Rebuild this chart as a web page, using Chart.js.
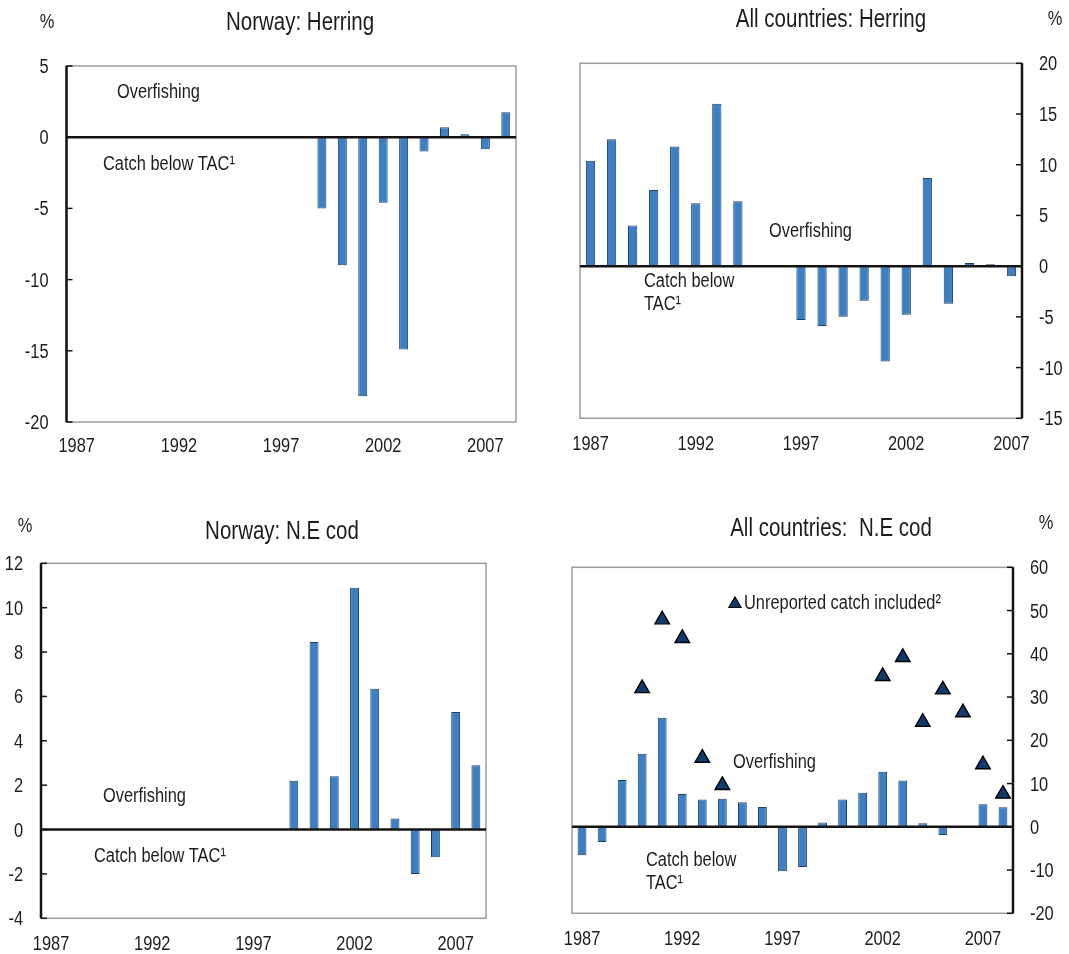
<!DOCTYPE html>
<html>
<head>
<meta charset="utf-8">
<script src="https://cdn.jsdelivr.net/npm/chart.js@4.4.1/dist/chart.umd.min.js"></script>
<style>
  html, body { margin: 0; padding: 0; background: #ffffff; }
  #page { position: relative; width: 1069px; height: 954px; overflow: hidden; }
  #page canvas { position: absolute; left: 0; top: 0; }
</style>
</head>
<body>
<div id="page">
  <canvas id="norwayHerring" width="1069" height="954"></canvas>
  <canvas id="allHerring" width="1069" height="954"></canvas>
  <canvas id="norwayCod" width="1069" height="954"></canvas>
  <canvas id="allCod" width="1069" height="954"></canvas>
</div>
<script>
// Catch relative to TAC, per cent

const yearsTo2008 = ['1987','1988','1989','1990','1991','1992','1993','1994','1995','1996','1997',
                     '1998','1999','2000','2001','2002','2003','2004','2005','2006','2007','2008'];
const yearsTo2007 = ['1987','1988','1989','1990','1991','1992','1993','1994','1995','1996','1997',
                     '1998','1999','2000','2001','2002','2003','2004','2005','2006','2007'];
const labelledYears = ['1987','1992','1997','2002','2007'];

// Norway: herring (1987-2008)
const norwayHerring = [null,null,null,null,null,null,null,null,null,null,null,null,
                       -5.0,-9.0,-18.2,-4.6,-14.9,-1.0,0.7,0.2,-0.85,1.75];
// All countries: herring (1987-2007)
const allHerring = [10.4,12.5,4.0,7.5,11.8,6.2,16.0,6.4,null,null,
                    -5.3,-5.9,-5.0,-3.4,-9.4,-4.8,8.7,-3.7,0.3,0.2,-1.0];
// Norway: N.E. cod (1987-2008)
const norwayCod = [null,null,null,null,null,null,null,null,null,null,null,null,
                   2.2,8.45,2.4,10.9,6.35,0.5,-2.0,-1.25,5.3,2.9];
// All countries: N.E. cod, reported catch (1987-2008)
const allCod = [-6.6,-3.5,10.8,16.9,25.2,7.6,6.3,6.5,5.7,4.6,
                -10.3,-9.3,1.0,6.3,7.9,12.7,10.7,0.8,-1.9,null,5.2,4.5];
// All countries: N.E. cod, unreported catch included (1987-2008)
const allCodUnreported = [null,null,null,32.0,47.9,43.6,15.9,9.6,null,null,
                          null,null,null,null,null,34.8,39.2,24.2,31.7,26.4,14.4,7.6];

const FONT = '"Liberation Sans", Arial, Helvetica, sans-serif';
const SQUEEZE = 0.82;          // narrow lettering
const INK = '#1d1d1d';
const BAR_FILL = '#3c7fc5';
const BAR_EDGE = '#1f3f66';
const MARK_FILL = '#0f3c6c';
const FRAME = '#9d9d9d';
const PAGE_W = 1069, PAGE_H = 954;
const AXIS_H = 40;

function line(ctx, x1, y1, x2, y2) {
  ctx.beginPath(); ctx.moveTo(x1, y1); ctx.lineTo(x2, y2); ctx.stroke();
}

function narrowText(ctx, text, x, y, size, align) {
  ctx.save();
  ctx.font = size + 'px ' + FONT;
  ctx.textAlign = align || 'left';
  ctx.textBaseline = 'alphabetic';
  ctx.translate(x, y);
  ctx.scale(SQUEEZE, 1);
  ctx.fillText(text, 0, 0);
  ctx.restore();
}

// frame, zero line, axis with inward ticks, tick labels and the panel's texts
const panelDecor = {
  id: 'panelDecor',
  beforeDatasetsDraw(chart) {
    const ctx = chart.ctx, a = chart.chartArea;
    ctx.save();
    ctx.strokeStyle = FRAME;
    ctx.lineWidth = 1.5;
    ctx.strokeRect(a.left, a.top, a.right - a.left, a.bottom - a.top);
    ctx.restore();
  },
  afterDatasetsDraw(chart, args, opts) {
    const ctx = chart.ctx, a = chart.chartArea, ys = chart.scales.y;
    const onRight = opts.side === 'right';
    const ax = onRight ? a.right : a.left;
    const dir = onRight ? -1 : 1;
    ctx.save();
    ctx.strokeStyle = '#141414';
    ctx.lineWidth = 2.5;
    const y0 = ys.getPixelForValue(0);
    line(ctx, a.left, y0, a.right, y0);
    line(ctx, ax, a.top, ax, a.bottom);
    ctx.lineWidth = 1.5;
    ys.ticks.forEach(t => {
      const y = ys.getPixelForValue(t.value);
      line(ctx, ax, y, ax + dir * 6, y);
    });
    ctx.restore();
  },
  afterDraw(chart, args, opts) {
    const ctx = chart.ctx, a = chart.chartArea;
    const ys = chart.scales.y, xs = chart.scales.x;
    const onRight = opts.side === 'right';
    ctx.save();
    ctx.fillStyle = INK;
    // value axis labels
    ys.ticks.forEach(t => {
      const y = ys.getPixelForValue(t.value);
      if (onRight) narrowText(ctx, t.label, a.right + 17, y + 7, 20, 'left');
      else narrowText(ctx, t.label, a.left - 18, y + 7, 20, 'right');
    });
    // year labels
    xs.ticks.forEach((t, i) => {
      if (t.label) narrowText(ctx, t.label, xs.getPixelForTick(i), a.bottom + opts.yearGap, 20, 'center');
    });
    (opts.texts || []).forEach(t => narrowText(ctx, t.text, t.x, t.y, t.size, t.align));
    if (opts.key) {
      const k = opts.key;
      ctx.fillStyle = MARK_FILL;
      ctx.strokeStyle = '#000000';
      ctx.lineWidth = 1.2;
      Chart.helpers.drawPoint(ctx, { pointStyle: 'triangle', radius: k.r, rotation: 0, borderWidth: 1.2 }, k.x, k.y);
      ctx.fillStyle = INK;
      narrowText(ctx, k.text, k.tx, k.ty, k.size, 'left');
    }
    ctx.restore();
  }
};

function makePanel(id, cfg) {
  const b = cfg.box;
  const onRight = cfg.side === 'right';
  const axisW = onRight ? PAGE_W - b.r : b.l;
  const padding = {
    top: b.t,
    bottom: PAGE_H - b.b - AXIS_H,
    left: onRight ? b.l : 0,
    right: onRight ? 0 : PAGE_W - b.r
  };
  const datasets = [{
    type: 'bar',
    data: cfg.values,
    backgroundColor: BAR_FILL,
    borderColor: BAR_EDGE,
    borderWidth: 1,
    borderSkipped: false,
    barPercentage: 0.44,
    categoryPercentage: 1.0,
    order: 2
  }];
  if (cfg.markers) {
    datasets.push({
      type: 'line',
      data: cfg.markers,
      showLine: false,
      pointStyle: 'triangle',
      pointRadius: 8.4,
      pointBackgroundColor: MARK_FILL,
      pointBorderColor: '#000000',
      pointBorderWidth: 1.4,
      order: 1
    });
  }
  return new Chart(document.getElementById(id), {
    type: 'bar',
    data: { labels: cfg.years, datasets },
    options: {
      responsive: false,
      animation: false,
      devicePixelRatio: 1,
      events: [],
      layout: { padding },
      plugins: {
        legend: { display: false },
        tooltip: { enabled: false },
        panelDecor: { side: cfg.side, texts: cfg.texts, key: cfg.key, yearGap: cfg.yearGap }
      },
      scales: {
        x: {
          type: 'category',
          offset: true,
          grid: { display: false, drawTicks: false },
          border: { display: false },
          ticks: {
            display: false,
            autoSkip: false, maxRotation: 0, minRotation: 0,
            callback: (v, i) => labelledYears.includes(cfg.years[i]) ? cfg.years[i] : ''
          },
          afterFit: s => { s.height = AXIS_H; }
        },
        y: {
          position: cfg.side,
          min: cfg.min, max: cfg.max,
          grid: { display: false, drawTicks: false },
          border: { display: false },
          ticks: { display: false, stepSize: cfg.step },
          afterFit: s => { s.width = axisW; }
        }
      }
    },
    plugins: [panelDecor]
  });
}

makePanel('norwayHerring', {
  years: yearsTo2008, values: norwayHerring, side: 'left',
  box: { l: 66.5, t: 66, r: 516, b: 422 }, min: -20, max: 5, step: 5, yearGap: 30,
  texts: [
    { text: 'Norway: Herring', x: 300, y: 30, size: 25, align: 'center' },
    { text: '%', x: 47, y: 28, size: 20, align: 'center' },
    { text: 'Overfishing', x: 117, y: 98, size: 20 },
    { text: 'Catch below TAC\u00B9', x: 103, y: 170, size: 20 }
  ]
});

makePanel('allHerring', {
  years: yearsTo2007, values: allHerring, side: 'right',
  box: { l: 580, t: 63.3, r: 1022, b: 418.3 }, min: -15, max: 20, step: 5, yearGap: 32,
  texts: [
    { text: 'All countries: Herring', x: 831, y: 27, size: 25, align: 'center' },
    { text: '%', x: 1055, y: 25, size: 20, align: 'center' },
    { text: 'Overfishing', x: 769, y: 237, size: 20 },
    { text: 'Catch below', x: 644, y: 287, size: 20 },
    { text: 'TAC\u00B9', x: 644, y: 310, size: 20 }
  ]
});

makePanel('norwayCod', {
  years: yearsTo2008, values: norwayCod, side: 'left',
  box: { l: 41, t: 563.3, r: 486, b: 918.3 }, min: -4, max: 12, step: 2, yearGap: 32,
  texts: [
    { text: 'Norway: N.E cod', x: 282, y: 539, size: 25, align: 'center' },
    { text: '%', x: 25, y: 532, size: 20, align: 'center' },
    { text: 'Overfishing', x: 103, y: 802, size: 20 },
    { text: 'Catch below TAC\u00B9', x: 94, y: 862, size: 20 }
  ]
});

makePanel('allCod', {
  years: yearsTo2008, values: allCod, markers: allCodUnreported, side: 'right',
  box: { l: 572, t: 567.3, r: 1013, b: 913.3 }, min: -20, max: 60, step: 10, yearGap: 32,
  texts: [
    { text: 'All countries:  N.E cod', x: 831, y: 536, size: 25, align: 'center' },
    { text: '%', x: 1046, y: 529, size: 20, align: 'center' },
    { text: 'Overfishing', x: 733, y: 768, size: 20 },
    { text: 'Catch below', x: 646, y: 866, size: 20 },
    { text: 'TAC\u00B9', x: 646, y: 889, size: 20 }
  ],
  key: { r: 7, x: 735, y: 604, text: 'Unreported catch included\u00B2', tx: 744, ty: 609, size: 20 }
});
</script>
</body>
</html>
